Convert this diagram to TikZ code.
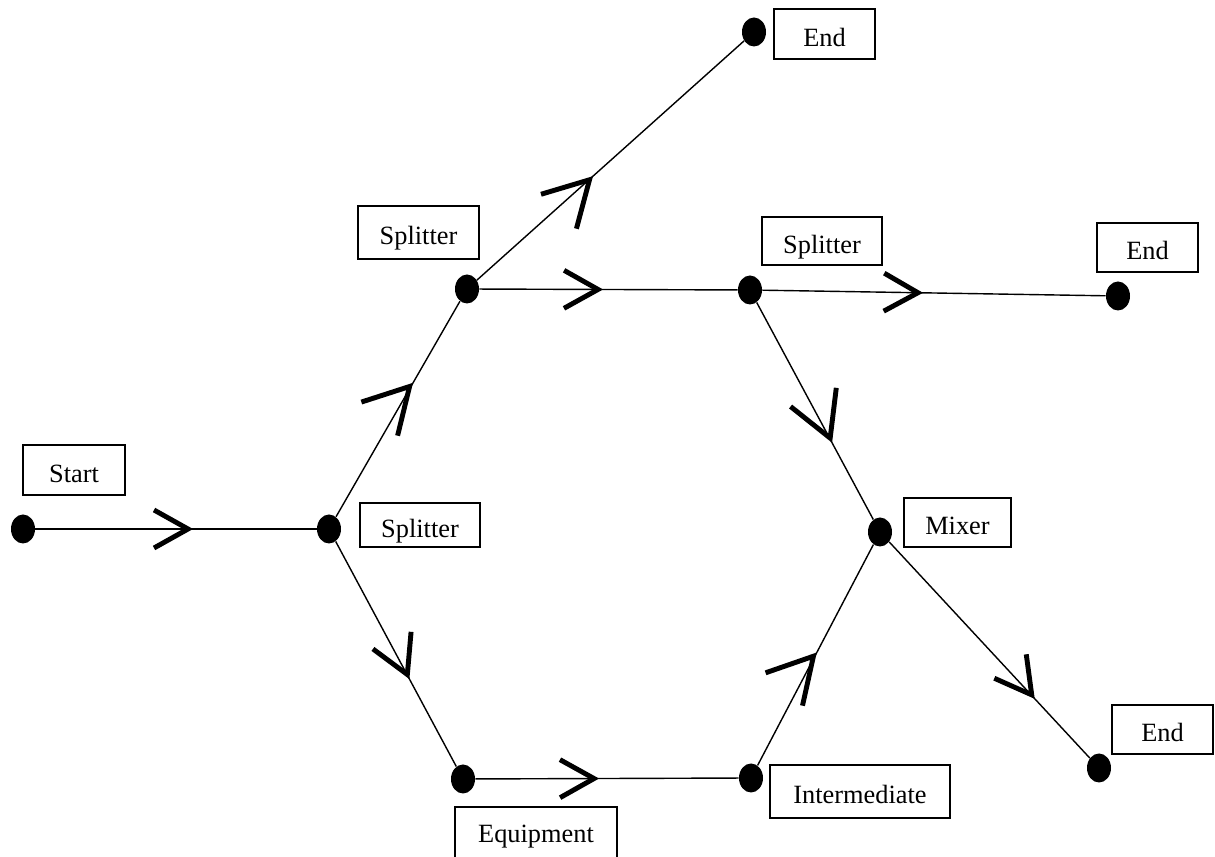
\documentclass[tikz,border=0pt]{standalone}
\usepackage{fontspec}
\setmainfont{Liberation Serif}
\usetikzlibrary{shapes.geometric,decorations.markings}
\begin{document}
\begin{tikzpicture}[x=0.02cm, y=0.02cm,
  dot/.style={ellipse, fill, inner sep=0, minimum width=0.48cm, minimum height=0.58cm},
  lbl/.style={draw, line width=0.7pt, inner sep=0, text height=14pt, text depth=0pt, font=\fontsize{15}{18}\selectfont},
  flow/.style n args={3}{line width=0.8pt, postaction={decorate},
    decoration={markings, mark=at position #1 with {\draw[line width=2.8pt, rotate=#2, scale=#3] (-38,19) -- (-4,0) -- (-38,-19);}}}]
\useasboundingbox (0,0) rectangle (1215,-857);
% junctions
\node[dot] (st) at (23,-529){};
\node[dot] (sp1) at (329,-529){};
\node[dot] (sp2) at (467,-289){};
\node[dot] (en1) at (754,-32){};
\node[dot] (sp3) at (750,-290){};
\node[dot] (en2) at (1118,-296){};
\node[dot] (mx) at (880,-532){};
\node[dot] (en3) at (1099,-768){};
\node[dot] (eq) at (463,-779){};
\node[dot] (im) at (751,-778){};
% labels
\node[lbl, minimum width=2.04cm, minimum height=1cm] (st-lbl) at (74,-470){Start};
\node[lbl, minimum width=2.4cm, minimum height=0.88cm] (sp1-lbl) at (420,-525){Splitter};
\node[lbl, minimum width=2.42cm, minimum height=1.06cm] (sp2-lbl) at (418.5,-232.5){Splitter};
\node[lbl, minimum width=2.02cm, minimum height=1cm] (en1-lbl) at (824.5,-34){End};
\node[lbl, minimum width=2.4cm, minimum height=0.96cm] (sp3-lbl) at (822,-241){Splitter};
\node[lbl, minimum width=2.02cm, minimum height=0.98cm] (en2-lbl) at (1147.5,-247.5){End};
\node[lbl, minimum width=2.14cm, minimum height=0.98cm] (mx-lbl) at (957.5,-522.5){Mixer};
\node[lbl, minimum width=2.02cm, minimum height=0.98cm] (en3-lbl) at (1162.5,-729.5){End};
\node[lbl, minimum width=3.6cm, minimum height=1.06cm] (im-lbl) at (860,-791.5){Intermediate};
\node[lbl, minimum width=3.24cm, minimum height=1.2cm, text depth=8.3pt] (eq-lbl) at (536,-837){Equipment};
% streams
\draw[flow={0.557}{0}{1}] (st) -- (sp1);
\draw[flow={0.622}{-13}{1.3}] (sp1) -- (sp2);
\draw[flow={0.435}{4}{1.3}] (sp2) -- (en1);
\draw[flow={0.475}{0}{1}] (sp2) -- (sp3);
\draw[flow={0.465}{0}{1}] (sp3) -- (en2);
\draw[flow={0.647}{-6}{1.3}] (sp3) -- (mx);
\draw[flow={0.609}{-4}{1.1}] (sp1) -- (eq);
\draw[flow={0.466}{0}{1}] (eq) -- (im);
\draw[flow={0.512}{-14}{1.3}] (im) -- (mx);
\draw[flow={0.723}{-6}{1.05}] (mx) -- (en3);
\end{tikzpicture}
\end{document}
